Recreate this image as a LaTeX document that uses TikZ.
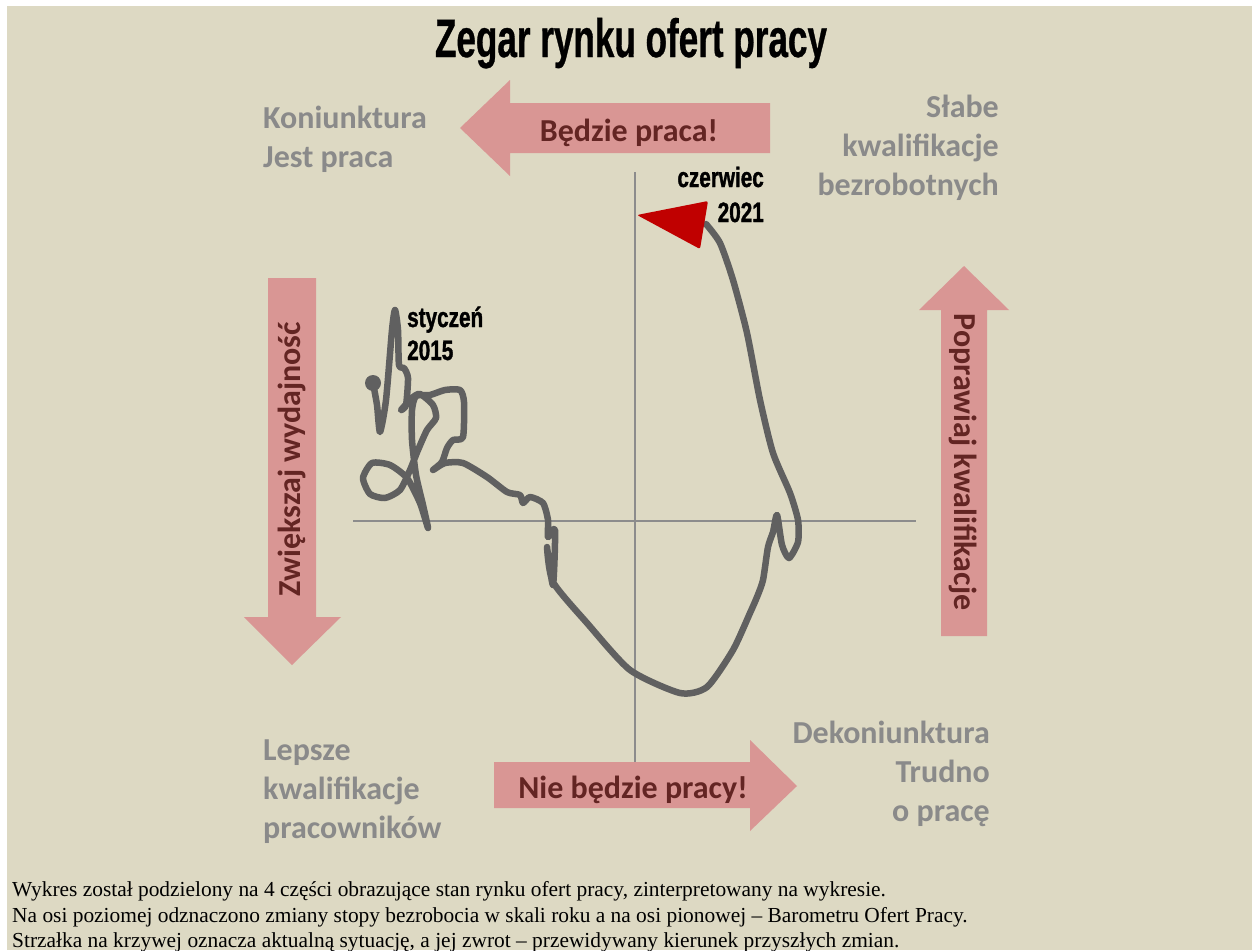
\documentclass[tikz,border=0pt]{standalone}
\usepackage{fontspec}
\setmainfont{Carlito}
\newfontfamily\condfont[FakeStretch=0.74,FakeBold=1.2]{Liberation Sans Bold}
\newfontfamily\titlefont[FakeStretch=0.65,FakeBold=0.6]{Liberation Sans Bold}
\newfontfamily\timesfont{Liberation Serif}
\definecolor{bgbeige}{HTML}{DDD9C3}
\definecolor{labelgray}{HTML}{8A8A8A}
\definecolor{arrowpink}{HTML}{D99694}
\definecolor{arrowtxt}{HTML}{632523}
\definecolor{curvegray}{HTML}{606060}
\definecolor{axisgray}{HTML}{8C8C8C}
\definecolor{tipred}{HTML}{C00000}
\tikzset{
  corner/.style={font=\bfseries\fontsize{32}{39}\selectfont, text=labelgray, inner sep=0pt},
  arrowtext/.style={font=\bfseries\fontsize{32}{38}\selectfont, text=arrowtxt, inner sep=0pt},
  datelabel/.style={font=\condfont\fontsize{28}{32}\selectfont, text=black, inner sep=0pt},
  curve/.style={draw=curvegray, line width=6.5pt, line cap=round, line join=round},
  axisline/.style={draw=axisgray, line width=2pt},
  bigarrow/.style={fill=arrowpink},
  caption/.style={font=\timesfont\fontsize{21.4}{25}\selectfont, anchor=base west, inner sep=0pt, text=black}
}
\begin{document}
\begin{tikzpicture}[x=1pt,y=-1pt]
\useasboundingbox (0,0) rectangle (1252,950);
\clip (0,0) rectangle (1252,950);
\fill[bgbeige] (7,6) rectangle (1252,950);

% title
\node[font=\titlefont\fontsize{54}{60}\selectfont, anchor=base, inner sep=0pt] (title) at (631,57) {Zegar rynku ofert pracy};

% big arrows
\fill[bigarrow] (770,103) -- (510,103) -- (510,80) -- (460,128) -- (510,176) -- (510,153) -- (770,153) -- cycle;
\node[arrowtext, anchor=base] (bedzie) at (629,141) {Będzie praca!};

\fill[bigarrow] (941,636) -- (941,310) -- (919,310) -- (964,266) -- (1009,310) -- (987,310) -- (987,636) -- cycle;
\node[arrowtext, rotate=-90] (popraw) at (963,462) {Poprawiaj kwalifikacje};

\fill[bigarrow] (268,278) -- (316,278) -- (316,617) -- (341,617) -- (292,665) -- (244,617) -- (268,617) -- cycle;
\node[arrowtext, rotate=90] (zwieksz) at (292,459) {Zwiększaj wydajność};

\fill[bigarrow] (494,762) -- (750,762) -- (750,740) -- (797,786) -- (750,831) -- (750,808) -- (494,808) -- cycle;
\node[arrowtext, anchor=base] (nie) at (633,798) {Nie będzie pracy!};

% corner labels
\node[corner, anchor=base west] (tl1) at (263,128) {Koniunktura};
\node[corner, anchor=base west] (tl2) at (263,167) {Jest praca};
\node[corner, anchor=base east] (tr1) at (999,117) {Słabe};
\node[corner, anchor=base east] (tr2) at (999,156) {kwalifikacje};
\node[corner, anchor=base east] (tr3) at (999,195) {bezrobotnych};
\node[corner, anchor=base west] (bl1) at (263,760) {Lepsze};
\node[corner, anchor=base west] (bl2) at (263,799) {kwalifikacje};
\node[corner, anchor=base west] (bl3) at (263,838) {pracowników};
\node[corner, anchor=base east] (br1) at (990,743) {Dekoniunktura};
\node[corner, anchor=base east] (br2) at (990,782) {Trudno};
\node[corner, anchor=base east] (br3) at (990,821) {o pracę};

% axes
\draw[axisline] (353,521) -- (916,521);
\draw[axisline] (635,172) -- (635,762);

% curve
\draw[curve] plot[smooth, tension=0.4] coordinates {
 (373,383) (377,405) (380,432) (386,400) (392,330) (395,310) (398,330) (399,365)
 (404,368) (408,378) (406,405) (401,410) (412,398) (420,394) (433,405) (436,418)
 (427,430) (418,450) (410,470) (400,490) (385,498) (370,494) (363,478) (372,463)
 (390,465) (407,478) (420,503) (428,528) (423,505) (416,475) (412,440) (412,410)
 (416,396) (430,395) (445,390) (460,390) (464,402) (463,437) (453,440) (447,448)
 (442,462) (433,470) (445,463) (463,463) (487,477) (507,492) (520,495) (523,503)
 (530,497) (543,503) (548,520) (548,537) (555,530) (553,585) (547,547) (553,582)
 (587,623) (630,670) (680,693) (707,687) (733,650) (750,613) (757,597) (763,580)
 (768,547) (773,532) (777,515) (782,545) (789,558) (798,542) (798,520) (790,493)
 (773,453) (760,400) (747,333) (733,280) (720,243) (706,224)};
\fill[curvegray] (373,383) circle (8);
\fill[tipred, rounded corners=2pt] (637,215) -- (708,201) -- (700,249) -- cycle;

% date labels
\node[datelabel, anchor=base west] (sty) at (407,327) {styczeń};
\node[datelabel, anchor=base west] (y15) at (407,360) {2015};
\node[datelabel, anchor=base east] (cze) at (764,187) {czerwiec};
\node[datelabel, anchor=base east] (y21) at (764,222) {2021};

% caption
\node[caption] (c1) at (12,896) {Wykres został podzielony na 4 części obrazujące stan rynku ofert pracy, zinterpretowany na wykresie.};
\node[caption] (c2) at (12,922) {Na osi poziomej odznaczono zmiany stopy bezrobocia w skali roku a na osi pionowej – Barometru Ofert Pracy.};
\node[caption] (c3) at (12,947) {Strzałka na krzywej oznacza aktualną sytuację, a jej zwrot – przewidywany kierunek przyszłych zmian.};
\end{tikzpicture}
\end{document}
